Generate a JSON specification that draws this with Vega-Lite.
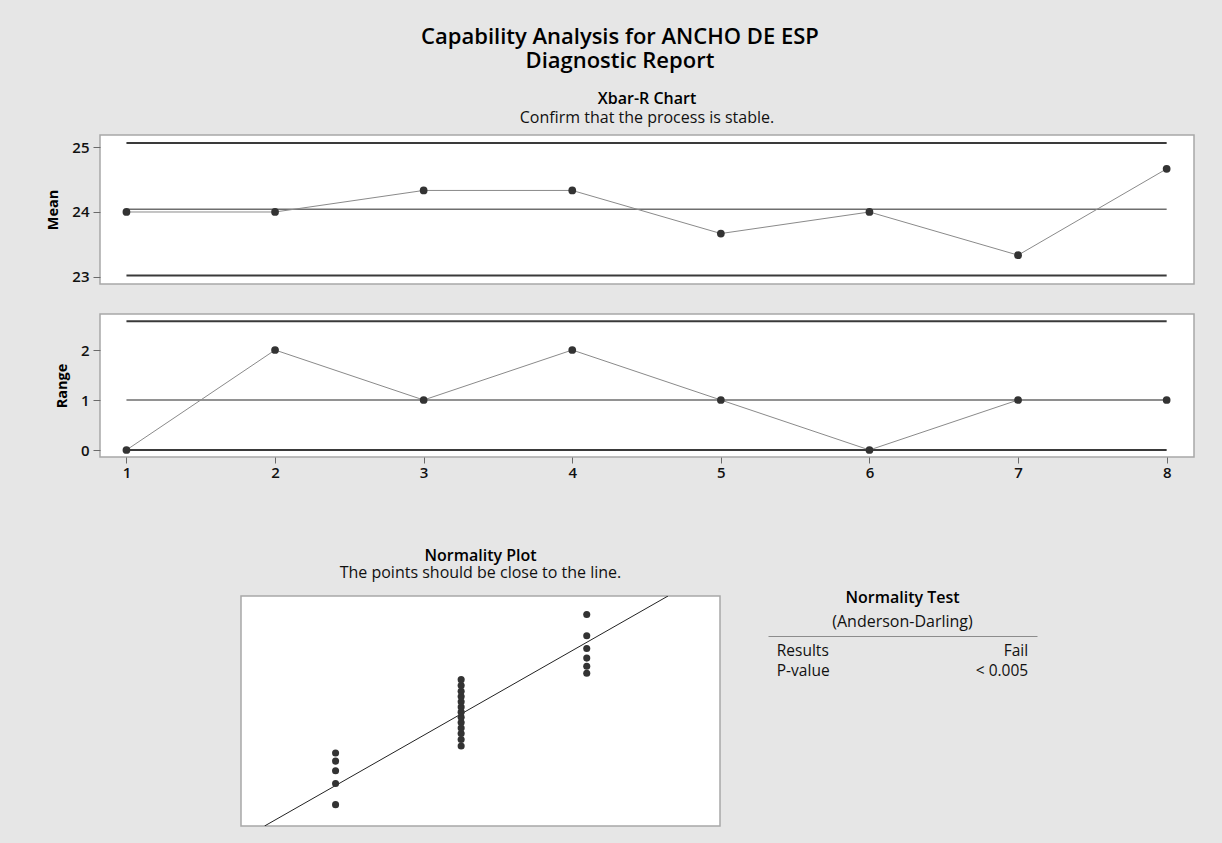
{
  "$schema": "https://vega.github.io/schema/vega-lite/v6.json",
  "background": "#e6e6e6",
  "padding": {"left": 45, "top": 25, "right": 60, "bottom": 40},
  "config": {
    "font": "Open Sans",
    "view": {"stroke": null},
    "title": {"color": "#000000", "subtitleColor": "#111111", "font": "Open Sans", "subtitleFont": "Open Sans"},
    "axis": {"labelFont": "Open Sans", "titleFont": "Open Sans", "grid": false, "domain": false, "labelColor": "#111111", "titleColor": "#000000", "tickColor": "#6a6a6a", "labelFontSize": 15, "labelFontWeight": 600, "titleFontSize": 14.5, "titleFontWeight": 700}
  },
  "title": {"text": ["Capability Analysis for ANCHO DE ESP", "Diagnostic Report"], "fontSize": 22, "fontWeight": 600, "lineHeight": 24.5, "anchor": "middle", "offset": 17},
  "datasets": {
    "sub": [
      {"subgroup": 1, "mean": 24, "range": 0},
      {"subgroup": 2, "mean": 24, "range": 2},
      {"subgroup": 3, "mean": 24.333, "range": 1},
      {"subgroup": 4, "mean": 24.333, "range": 2},
      {"subgroup": 5, "mean": 23.667, "range": 1},
      {"subgroup": 6, "mean": 24, "range": 0},
      {"subgroup": 7, "mean": 23.333, "range": 1},
      {"subgroup": 8, "mean": 24.667, "range": 1}
    ],
    "limits": [
      {"chart": "mean", "kind": "limit", "value": 25.065, "from": 1, "to": 8},
      {"chart": "mean", "kind": "center", "value": 24.042, "from": 1, "to": 8},
      {"chart": "mean", "kind": "limit", "value": 23.019, "from": 1, "to": 8},
      {"chart": "range", "kind": "limit", "value": 2.574, "from": 1, "to": 8},
      {"chart": "range", "kind": "center", "value": 1, "from": 1, "to": 8},
      {"chart": "range", "kind": "limit", "value": 0, "from": 1, "to": 8}
    ],
    "normal": [
      {"value": 23, "z": -1.901}, {"value": 23, "z": -1.478}, {"value": 23, "z": -1.223}, {"value": 23, "z": -1.030}, {"value": 23, "z": -0.868},
      {"value": 24, "z": -0.727}, {"value": 24, "z": -0.599}, {"value": 24, "z": -0.480}, {"value": 24, "z": -0.368}, {"value": 24, "z": -0.260},
      {"value": 24, "z": -0.155}, {"value": 24, "z": -0.051}, {"value": 24, "z": 0.051}, {"value": 24, "z": 0.155}, {"value": 24, "z": 0.260},
      {"value": 24, "z": 0.368}, {"value": 24, "z": 0.480}, {"value": 24, "z": 0.599},
      {"value": 25, "z": 0.727}, {"value": 25, "z": 0.868}, {"value": 25, "z": 1.030}, {"value": 25, "z": 1.223}, {"value": 25, "z": 1.478}, {"value": 25, "z": 1.901}
    ],
    "fit": [
      {"x": 22.4345, "z": -2.328},
      {"x": 25.647, "z": 2.272}
    ],
    "table": [
      {"row": "Results", "col": "label", "text": "Results"},
      {"row": "Results", "col": "value", "text": "Fail"},
      {"row": "P-value", "col": "label", "text": "P-value"},
      {"row": "P-value", "col": "value", "text": "< 0.005"}
    ]
  },
  "spacing": 66,
  "vconcat": [
    {
      "spacing": 30,
      "bounds": "flush",
      "vconcat": [
        {
          "width": 1094,
          "height": 149,
          "view": {"fill": "white", "stroke": "#a8a8a8", "strokeWidth": 1.5},
          "title": {"text": "Xbar-R Chart", "subtitle": "Confirm that the process is stable.", "fontSize": 16, "fontWeight": 600, "subtitleFontSize": 16, "subtitlePadding": 3, "offset": 9, "anchor": "middle"},
          "layer": [
            {
              "data": {"name": "limits"},
              "transform": [{"filter": "datum.chart === 'mean'"}],
              "mark": {"type": "rule"},
              "encoding": {
                "x": {"field": "from", "type": "quantitative", "scale": {"domain": [0.822, 8.184], "nice": false, "zero": false}, "axis": null},
                "x2": {"field": "to"},
                "y": {"field": "value", "type": "quantitative", "title": "Mean", "scale": {"domain": [22.887, 25.19], "nice": false, "zero": false}, "axis": {"values": [23, 24, 25], "tickSize": 7, "labelPadding": 4, "titlePadding": 11}},
                "color": {"field": "kind", "type": "nominal", "scale": {"domain": ["limit", "center"], "range": ["#3a3a3a", "#6e6e6e"]}, "legend": null},
                "strokeWidth": {"field": "kind", "type": "nominal", "scale": {"domain": ["limit", "center"], "range": [2, 1.6]}, "legend": null}
              }
            },
            {
              "data": {"name": "sub"},
              "mark": {"type": "line", "color": "#8a8a8a", "strokeWidth": 1},
              "encoding": {
                "x": {"field": "subgroup", "type": "quantitative", "scale": {"domain": [0.822, 8.184], "nice": false, "zero": false}, "axis": null},
                "y": {"field": "mean", "type": "quantitative", "title": "Mean", "scale": {"domain": [22.887, 25.19], "nice": false, "zero": false}, "axis": {"values": [23, 24, 25], "tickSize": 7, "labelPadding": 4, "titlePadding": 11}}
              }
            },
            {
              "data": {"name": "sub"},
              "mark": {"type": "circle", "size": 60, "color": "#333333", "opacity": 1},
              "encoding": {
                "x": {"field": "subgroup", "type": "quantitative", "scale": {"domain": [0.822, 8.184], "nice": false, "zero": false}, "axis": null},
                "y": {"field": "mean", "type": "quantitative", "title": "Mean", "scale": {"domain": [22.887, 25.19], "nice": false, "zero": false}, "axis": {"values": [23, 24, 25], "tickSize": 7, "labelPadding": 4, "titlePadding": 11}}
              }
            }
          ]
        },
        {
          "width": 1094,
          "height": 143,
          "view": {"fill": "white", "stroke": "#a8a8a8", "strokeWidth": 1.5},
          "layer": [
            {
              "data": {"name": "limits"},
              "transform": [{"filter": "datum.chart === 'range'"}],
              "mark": {"type": "rule"},
              "encoding": {
                "x": {"field": "from", "type": "quantitative", "title": null, "scale": {"domain": [0.822, 8.184], "nice": false, "zero": false}, "axis": {"values": [1, 2, 3, 4, 5, 6, 7, 8], "tickSize": 6, "labelPadding": 2, "format": "d"}},
                "x2": {"field": "to"},
                "y": {"field": "value", "type": "quantitative", "title": "Range", "scale": {"domain": [-0.14, 2.72], "nice": false, "zero": false}, "axis": {"values": [0, 1, 2], "tickSize": 7, "labelPadding": 4, "titlePadding": 11}},
                "color": {"field": "kind", "type": "nominal", "scale": {"domain": ["limit", "center"], "range": ["#3a3a3a", "#6e6e6e"]}, "legend": null},
                "strokeWidth": {"field": "kind", "type": "nominal", "scale": {"domain": ["limit", "center"], "range": [2, 1.6]}, "legend": null}
              }
            },
            {
              "data": {"name": "sub"},
              "mark": {"type": "line", "color": "#8a8a8a", "strokeWidth": 1},
              "encoding": {
                "x": {"field": "subgroup", "type": "quantitative", "title": null, "scale": {"domain": [0.822, 8.184], "nice": false, "zero": false}, "axis": {"values": [1, 2, 3, 4, 5, 6, 7, 8], "tickSize": 6, "labelPadding": 2, "format": "d"}},
                "y": {"field": "range", "type": "quantitative", "title": "Range", "scale": {"domain": [-0.14, 2.72], "nice": false, "zero": false}, "axis": {"values": [0, 1, 2], "tickSize": 7, "labelPadding": 4, "titlePadding": 11}}
              }
            },
            {
              "data": {"name": "sub"},
              "mark": {"type": "circle", "size": 60, "color": "#333333", "opacity": 1},
              "encoding": {
                "x": {"field": "subgroup", "type": "quantitative", "title": null, "scale": {"domain": [0.822, 8.184], "nice": false, "zero": false}, "axis": {"values": [1, 2, 3, 4, 5, 6, 7, 8], "tickSize": 6, "labelPadding": 2, "format": "d"}},
                "y": {"field": "range", "type": "quantitative", "title": "Range", "scale": {"domain": [-0.14, 2.72], "nice": false, "zero": false}, "axis": {"values": [0, 1, 2], "tickSize": 7, "labelPadding": 4, "titlePadding": 11}}
              }
            }
          ]
        }
      ]
    },
    {
      "spacing": 48,
      "bounds": "flush",
      "hconcat": [
        {
          "width": 93,
          "height": 10,
          "data": {"values": []},
          "mark": {"type": "point", "opacity": 0}
        },
        {
          "width": 479,
          "height": 230,
          "view": {"fill": "white", "stroke": "#a8a8a8", "strokeWidth": 1.5},
          "title": {"text": "Normality Plot", "subtitle": "The points should be close to the line.", "fontSize": 16, "fontWeight": 600, "subtitleFontSize": 16, "subtitlePadding": 1, "offset": 15, "anchor": "middle"},
          "layer": [
            {
              "data": {"name": "fit"},
              "mark": {"type": "line", "color": "#222222", "strokeWidth": 1, "clip": true},
              "encoding": {
                "x": {"field": "x", "type": "quantitative", "scale": {"domain": [22.247, 26.061], "nice": false, "zero": false}, "axis": null},
                "y": {"field": "z", "type": "quantitative", "scale": {"domain": [-2.328, 2.272], "nice": false, "zero": false}, "axis": null}
              }
            },
            {
              "data": {"name": "normal"},
              "mark": {"type": "circle", "size": 50, "color": "#333333", "opacity": 1},
              "encoding": {
                "x": {"field": "value", "type": "quantitative", "scale": {"domain": [22.247, 26.061], "nice": false, "zero": false}, "axis": null},
                "y": {"field": "z", "type": "quantitative", "scale": {"domain": [-2.328, 2.272], "nice": false, "zero": false}, "axis": null}
              }
            }
          ]
        },
        {
          "width": 269,
          "height": 230,
          "data": {"name": "table"},
          "title": {"text": "Normality Test", "subtitle": "(Anderson-Darling)", "fontSize": 16, "fontWeight": 600, "subtitleFontSize": 16, "subtitleFontWeight": 500, "subtitlePadding": 8, "offset": -34, "anchor": "middle"},
          "layer": [
            {
              "transform": [{"filter": "datum.col === 'label'"}],
              "mark": {"type": "text", "align": "left", "baseline": "middle", "fontSize": 15.5, "color": "#111111"},
              "encoding": {
                "x": {"field": "col", "type": "nominal", "scale": {"type": "point", "domain": ["label", "value"], "padding": 0.035}, "axis": {"orient": "top", "offset": -40, "domain": true, "domainColor": "#8c8c8c", "domainWidth": 1.2, "ticks": false, "labels": false, "title": null}},
                "y": {"field": "row", "type": "nominal", "scale": {"type": "point", "domain": ["Results", "P-value"], "range": [55, 75], "padding": 0}, "axis": null},
                "text": {"field": "text"}
              }
            },
            {
              "transform": [{"filter": "datum.col === 'value'"}],
              "mark": {"type": "text", "align": "right", "baseline": "middle", "fontSize": 15.5, "color": "#111111"},
              "encoding": {
                "x": {"field": "col", "type": "nominal", "scale": {"type": "point", "domain": ["label", "value"], "padding": 0.035}, "axis": {"orient": "top", "offset": -40, "domain": true, "domainColor": "#8c8c8c", "domainWidth": 1.2, "ticks": false, "labels": false, "title": null}},
                "y": {"field": "row", "type": "nominal", "scale": {"type": "point", "domain": ["Results", "P-value"], "range": [55, 75], "padding": 0}, "axis": null},
                "text": {"field": "text"}
              }
            }
          ]
        }
      ]
    }
  ]
}
